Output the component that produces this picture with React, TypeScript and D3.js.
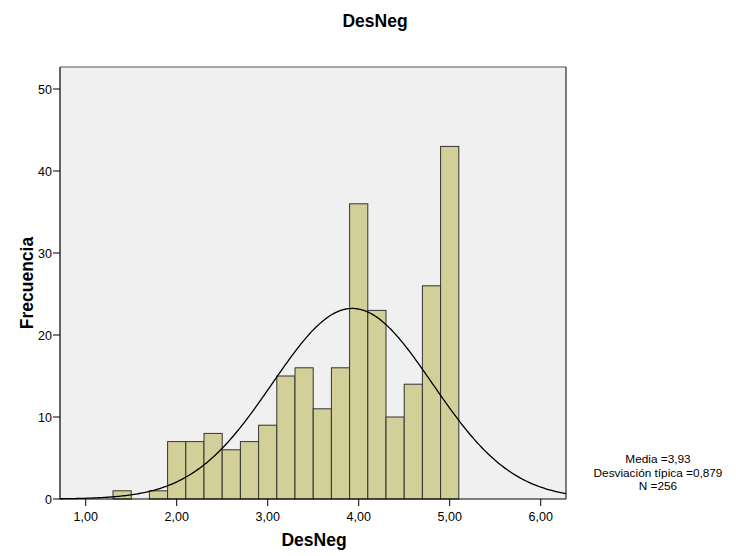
import React from "react";
import * as d3 from "d3";

const binStarts = [1.3, 1.5, 1.7, 1.9, 2.1, 2.3, 2.5, 2.7, 2.9, 3.1, 3.3, 3.5, 3.7, 3.9, 4.1, 4.3, 4.5, 4.7, 4.9];
const counts = [1, 0, 1, 7, 7, 8, 6, 7, 9, 15, 16, 11, 16, 36, 23, 10, 14, 26, 43];
const binWidth = 0.2;
const xTicks = [1, 2, 3, 4, 5, 6];
const yTicks = [0, 10, 20, 30, 40, 50];
const mean = 3.93;
const sd = 0.879;
const n = 256;
const legendLines = ["Media =3,93", "Desviación típica =0,879", "N =256"];

export default function App() {
  const W = 736, H = 556;
  const left = 60, right = 566, top = 67, bottom = 499;
  const x = d3.scaleLinear().domain([1, 6]).range([85.7, 85.7 + 91 * 5]);
  const xDomain = [x.invert(left), x.invert(right)];
  const y = d3.scaleLinear().domain([0, 50]).range([bottom, bottom - 50 * 8.2]);
  const font = "Arial, 'Liberation Sans', Helvetica, sans-serif";
  const fmt = (v: number) => v.toFixed(2).replace(".", ",");

  const pdf = (v: number) => (1 / (sd * Math.sqrt(2 * Math.PI))) * Math.exp(-0.5 * ((v - mean) / sd) ** 2);
  const curvePts: [number, number][] = d3.range(0, 301).map((i) => {
    const v = xDomain[0] + ((xDomain[1] - xDomain[0]) * i) / 300;
    return [x(v), y(n * binWidth * pdf(v))];
  });
  const line = d3.line();

  return (
    <svg width={W} height={H} style={{ position: "absolute", left: 0, top: 0, background: "#fff" }}>
      <text x={375} y={27} textAnchor="middle" fontFamily={font} fontWeight="bold" fontSize={17.5}>DesNeg</text>
      <rect x={left} y={top} width={right - left} height={bottom - top} fill="#f0f0f0" />
      <line x1={left} y1={top} x2={right} y2={top} stroke="#555" strokeWidth={1} />
      <line x1={right} y1={top} x2={right} y2={bottom} stroke="#000" strokeWidth={1} />
      {counts.map((c, i) =>
        c > 0 ? (
          <rect
            key={i}
            x={x(binStarts[i])}
            y={y(c)}
            width={x(binStarts[i] + binWidth) - x(binStarts[i])}
            height={y(0) - y(c)}
            fill="#d3cf98"
            stroke="#333"
            strokeWidth={1}
          />
        ) : null
      )}
      <path d={line(curvePts) || ""} fill="none" stroke="#000" strokeWidth={1.3} />
      <line x1={left} y1={top} x2={left} y2={bottom} stroke="#000" strokeWidth={1.2} />
      <line x1={left} y1={bottom} x2={right} y2={bottom} stroke="#000" strokeWidth={1.2} />
      {yTicks.map((t) => (
        <g key={t}>
          <line x1={left - 7} x2={left} y1={y(t)} y2={y(t)} stroke="#000" />
          <text x={left - 8} y={y(t) + 4.5} textAnchor="end" fontFamily={font} fontSize={12.5}>{t}</text>
        </g>
      ))}
      {xTicks.map((t) => (
        <g key={t}>
          <line x1={x(t)} x2={x(t)} y1={bottom} y2={bottom + 7} stroke="#000" />
          <text x={x(t)} y={521} textAnchor="middle" fontFamily={font} fontSize={12.5}>{fmt(t)}</text>
        </g>
      ))}
      <text x={314} y={546} textAnchor="middle" fontFamily={font} fontWeight="bold" fontSize={17.5}>DesNeg</text>
      <text transform={`translate(33,${(top + bottom) / 2}) rotate(-90)`} textAnchor="middle" fontFamily={font} fontWeight="bold" fontSize={17.5}>Frecuencia</text>
      {legendLines.map((s, i) => (
        <text key={i} x={658} y={463 + i * 13.5} textAnchor="middle" fontFamily={font} fontSize={11.8}>{s}</text>
      ))}
    </svg>
  );
}
